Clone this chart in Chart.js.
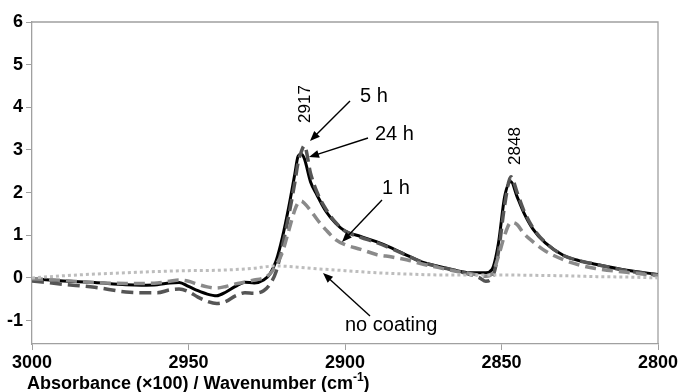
<!DOCTYPE html>
<html lang="en">
<head>
  <meta charset="UTF-8">
  <title>Absorbance spectra</title>
  <style>
    body {
      margin: 0;
      padding: 0;
      background: #fff;
    }
    canvas {
      display: block;
    }
  </style>
</head>
<body>
<canvas id="irChart" width="693" height="392"></canvas>

<script src="https://cdn.jsdelivr.net/npm/chart.js"></script>
<script>
  // wavenumbers (cm-1) shared by the coated samples
  const wavenumbers = [3000, 2990, 2980, 2970, 2965, 2960, 2956, 2953, 2950, 2947, 2944, 2941, 2938, 2935,
    2932, 2929, 2926, 2924, 2922, 2920, 2918, 2916, 2915, 2914, 2913, 2911, 2909, 2906, 2903, 2900,
    2895, 2890, 2885, 2880, 2875, 2870, 2865, 2860, 2857, 2855, 2853, 2851, 2849, 2847, 2845, 2843,
    2840, 2836, 2830, 2825, 2820, 2810, 2800];

  const h24 = [-0.02, -0.07, -0.11, -0.16, -0.17, -0.16, -0.12, -0.11, -0.2, -0.3, -0.38, -0.42, -0.33, -0.2,
    -0.1, -0.12, -0.05, 0.09, 0.4, 0.95, 1.65, 2.45, 2.85, 2.9, 2.8, 2.25, 1.95, 1.55, 1.28, 1.1,
    0.97, 0.85, 0.7, 0.52, 0.36, 0.27, 0.18, 0.12, 0.12, 0.12, 0.2, 0.8, 1.9, 2.26, 1.9, 1.55,
    1.15, 0.82, 0.52, 0.4, 0.32, 0.18, 0.08];

  const h5 = [-0.07, -0.15, -0.22, -0.33, -0.35, -0.35, -0.28, -0.26, -0.32, -0.45, -0.55, -0.6, -0.55, -0.42,
    -0.35, -0.36, -0.3, -0.15, 0.15, 0.75, 1.45, 2.25, 2.7, 2.95, 3.1, 2.45, 2.02, 1.6, 1.3, 1.1,
    0.95, 0.83, 0.68, 0.52, 0.36, 0.26, 0.18, 0.08, 0.0, -0.08, 0.0, 0.6, 1.7, 2.37, 2.0, 1.6,
    1.18, 0.83, 0.52, 0.4, 0.32, 0.17, 0.07];

  const h1 = [-0.02, -0.06, -0.11, -0.13, -0.13, -0.12, -0.08, -0.05, -0.08, -0.15, -0.21, -0.24, -0.2, -0.14,
    -0.1, -0.05, 0.0, 0.09, 0.3, 0.6, 1.1, 1.6, 1.76, 1.8, 1.75, 1.58, 1.38, 1.12, 0.9, 0.78,
    0.67, 0.55, 0.49, 0.42, 0.32, 0.24, 0.16, 0.1, 0.06, 0.04, 0.1, 0.5, 1.0, 1.3, 1.25, 1.05,
    0.85, 0.63, 0.42, 0.3, 0.22, 0.13, 0.05];

  // uncoated reference
  const bareWavenumbers = [3000, 2990, 2980, 2970, 2960, 2950, 2940, 2930, 2922, 2915, 2910, 2900,
    2890, 2880, 2870, 2860, 2850, 2840, 2830, 2820, 2810, 2800];
  const noCoating = [0.0, 0.05, 0.09, 0.12, 0.15, 0.17, 0.18, 0.22, 0.28, 0.25, 0.22, 0.17,
    0.12, 0.09, 0.07, 0.07, 0.07, 0.06, 0.05, 0.03, 0.02, 0.0];

  const yTicks = [-1, 0, 1, 2, 3, 4, 5, 6];
  const xTicks = [3000, 2950, 2900, 2850, 2800];

  function toPoints(xs, ys) {
    return xs.map((x, i) => ({ x: x, y: ys[i] }));
  }

  const FONT = "'Liberation Sans', Arial, sans-serif";

  function arrow(ctx, x1, y1, x2, y2) {
    const ang = Math.atan2(y2 - y1, x2 - x1);
    const len = 10, half = 4;
    ctx.beginPath();
    ctx.moveTo(x1, y1);
    ctx.lineTo(x2 - Math.cos(ang) * len * 0.8, y2 - Math.sin(ang) * len * 0.8);
    ctx.stroke();
    ctx.beginPath();
    ctx.moveTo(x2, y2);
    ctx.lineTo(x2 - Math.cos(ang) * len - Math.sin(ang) * half, y2 - Math.sin(ang) * len + Math.cos(ang) * half);
    ctx.lineTo(x2 - Math.cos(ang) * len + Math.sin(ang) * half, y2 - Math.sin(ang) * len - Math.cos(ang) * half);
    ctx.closePath();
    ctx.fill();
  }

  const frameAndNotes = {
    id: 'frameAndNotes',
    beforeDatasetsDraw(chart) {
      const a = chart.chartArea;
      const ctx = chart.ctx;
      ctx.save();
      ctx.strokeStyle = '#a0a0a0';
      ctx.lineWidth = 1.3;
      ctx.beginPath();
      ctx.moveTo(a.left, a.top);
      ctx.lineTo(a.right, a.top);
      ctx.lineTo(a.right, a.bottom);
      ctx.stroke();
      ctx.restore();
    },
    afterDraw(chart) {
      const ctx = chart.ctx;
      ctx.save();
      ctx.fillStyle = '#000';
      ctx.strokeStyle = '#000';
      ctx.lineWidth = 1.4;

      // peak positions, written vertically
      ctx.font = '17px ' + FONT;
      ctx.textAlign = 'center';
      ctx.textBaseline = 'middle';
      [['2917', 305, 104], ['2848', 515, 146]].forEach(([t, px, py]) => {
        ctx.save();
        ctx.translate(px, py);
        ctx.rotate(-Math.PI / 2);
        ctx.fillText(t, 0, 0);
        ctx.restore();
      });

      ctx.font = '20px ' + FONT;
      ctx.textAlign = 'left';
      ctx.textBaseline = 'alphabetic';
      ctx.fillText('5 h', 360, 102);
      ctx.fillText('24 h', 375, 140);
      ctx.fillText('1 h', 382, 194);
      ctx.fillText('no coating', 345, 331);

      arrow(ctx, 350, 101, 310, 141);
      arrow(ctx, 368, 138, 309, 157);
      arrow(ctx, 382, 200, 342, 242);
      arrow(ctx, 370, 316, 323, 273);

      // axis title
      const main = 'Absorbance (\u00d7100) / Wavenumber (cm';
      ctx.font = 'bold 18px ' + FONT;
      ctx.fillText(main, 27, 389);
      const w1 = ctx.measureText(main).width;
      ctx.font = 'bold 12px ' + FONT;
      ctx.fillText('-1', 27 + w1, 381);
      const w2 = ctx.measureText('-1').width;
      ctx.font = 'bold 18px ' + FONT;
      ctx.fillText(')', 27 + w1 + w2, 389);
      ctx.restore();
    }
  };

  const ctx = document.getElementById('irChart').getContext('2d');
  new Chart(ctx, {
    type: 'line',
    data: {
      datasets: [
        {
          label: 'no coating',
          data: toPoints(bareWavenumbers, noCoating),
          borderColor: '#bdbdbd',
          borderWidth: 3,
          borderDash: [3, 3],
          cubicInterpolationMode: 'monotone'
        },
        {
          label: '1 h',
          data: toPoints(wavenumbers, h1),
          borderColor: '#8a8a8a',
          borderWidth: 3.5,
          borderDash: [11, 6],
          cubicInterpolationMode: 'monotone'
        },
        {
          label: '5 h',
          data: toPoints(wavenumbers, h5),
          borderColor: '#555555',
          borderWidth: 3.5,
          borderDash: [12, 6],
          cubicInterpolationMode: 'monotone'
        },
        {
          label: '24 h',
          data: toPoints(wavenumbers, h24),
          borderColor: '#000000',
          borderWidth: 3,
          cubicInterpolationMode: 'monotone'
        }
      ]
    },
    options: {
      responsive: false,
      animation: false,
      devicePixelRatio: 1,
      layout: { padding: { left: 0, right: 35, top: 22, bottom: 0 } },
      elements: { point: { radius: 0 } },
      plugins: {
        legend: { display: false },
        tooltip: { enabled: false }
      },
      scales: {
        x: {
          type: 'linear',
          reverse: true,
          min: 2800,
          max: 3000,
          afterBuildTicks: (scale) => { scale.ticks = xTicks.map(v => ({ value: v })); },
          afterFit: (scale) => { scale.height = 392 - 344; },
          grid: { drawOnChartArea: false, tickLength: 6, color: '#a0a0a0' },
          border: { color: '#a0a0a0', width: 1.3 },
          ticks: {
            color: '#000',
            padding: 2,
            maxRotation: 0,
            autoSkip: false,
            callback: (v) => String(v),
            font: { family: FONT, size: 18, weight: 'bold' }
          }
        },
        y: {
          min: -1.55,
          max: 6,
          afterBuildTicks: (scale) => { scale.ticks = yTicks.map(v => ({ value: v })); },
          afterFit: (scale) => { scale.width = 32; },
          grid: { drawOnChartArea: false, tickLength: 6, color: '#a0a0a0' },
          border: { color: '#a0a0a0', width: 1.3 },
          ticks: {
            color: '#000',
            padding: 3,
            autoSkip: false,
            callback: (v) => String(v),
            font: { family: FONT, size: 18, weight: 'bold' }
          }
        }
      }
    },
    plugins: [frameAndNotes]
  });
</script>
</body>
</html>
